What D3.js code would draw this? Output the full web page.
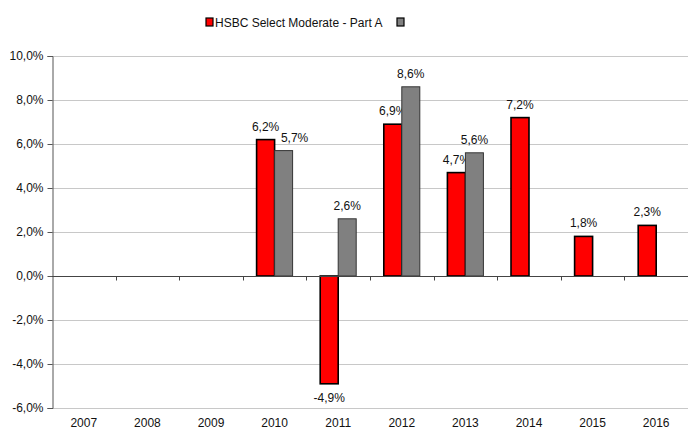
<!DOCTYPE html>
<meta charset="utf-8">
<style>
html, body {
  margin: 0;
  background: #fff;
}

.chart {
  display: block;
  font-family: "Liberation Sans Narrow", "Arial Narrow", "Liberation Sans", Arial, sans-serif;
}

.chart text {
  fill: #111;
  font-size: 12px;
}
</style>
<body>
<svg class="chart js-chart" width="688" height="430"></svg>

<script src="https://d3js.org/d3.v7.min.js"></script>
<script type="text/javascript">
"use strict";

var years = ["2007", "2008", "2009", "2010", "2011", "2012", "2013", "2014", "2015", "2016"];
var fundValues = [null, null, null, 6.2, -4.9, 6.9, 4.7, 7.2, 1.8, 2.3];
var benchValues = [null, null, null, 5.7, 2.6, 8.6, 5.6, null, null, null];
var yTicks = [-6, -4, -2, 0, 2, 4, 6, 8, 10];
var seriesNames = ["HSBC Select Moderate - Part A", ""];

var margin = { top: 56, right: 0, bottom: 22, left: 52 };
var width = 688 - margin.left - margin.right;
var height = 430 - margin.top - margin.bottom;

var svg = d3.select(".js-chart");

var fmt = function (v) { return v.toFixed(1).replace(".", ",") + "%"; };

var x = d3.scaleBand().domain(years).range([0, width]);
var y = d3.scaleLinear().domain([-6, 10]).range([height, 0]);

var g = svg.append("g")
  .attr("transform", "translate(" + margin.left + "," + margin.top + ")");

// gridlines
g.selectAll(".grid").data(yTicks.filter(function (d) { return d !== 0; }))
  .enter().append("line")
    .attr("x1", 0).attr("x2", width)
    .attr("y1", function (d) { return Math.round(y(d)) + 0.5; })
    .attr("y2", function (d) { return Math.round(y(d)) + 0.5; })
    .attr("stroke", "#c8c8c8");

// y axis
var yAxis = g.append("g")
  .attr("transform", "translate(0.5,0)")
  .call(d3.axisLeft(y).tickValues(yTicks).tickFormat(fmt).tickSize(5).tickPadding(4));
yAxis.selectAll("path, line").attr("stroke", "#555");
yAxis.selectAll("text").attr("font-size", 12).attr("font-family", null);

var series = [
  { name: "fund", values: fundValues, fill: "#ff0000", stroke: "#000", sw: 1.6, offset: -1 },
  { name: "bench", values: benchValues, fill: "#808080", stroke: "#333", sw: 1, offset: 0 }
];

var barW = 18;
var labelY = function (v) { return v >= 0 ? y(v) - 9 : y(v) + 18; };

series.forEach(function (s, si) {
  var rows = years.map(function (yr, i) { return { year: yr, v: s.values[i], i: i }; })
    .filter(function (d) { return d.v !== null; });

  var bx = function (d) { return x(d.year) + x.bandwidth() / 2 + s.offset * barW; };

  g.selectAll(".bar-" + s.name).data(rows)
    .enter().append("rect")
      .attr("x", bx)
      .attr("y", function (d) { return y(Math.max(0, d.v)); })
      .attr("width", barW)
      .attr("height", function (d) { return Math.abs(y(d.v) - y(0)); })
      .attr("fill", s.fill)
      .attr("stroke", s.stroke)
      .attr("stroke-width", s.sw);

  // push second label aside when it would collide with the first one
  var nudge = function (d) {
    if (si === 0) return 0;
    var other = fundValues[d.i];
    if (other === null) return 0;
    return Math.abs(labelY(other) - labelY(d.v)) < 13 ? 11 : 0;
  };

  g.selectAll(".lbl-" + s.name).data(rows)
    .enter().append("text")
      .attr("x", function (d) { return bx(d) + barW / 2 + nudge(d); })
      .attr("y", function (d) { return labelY(d.v); })
      .attr("text-anchor", "middle")
      .text(function (d) { return fmt(d.v); });
});

// zero line with category ticks
var xAxis = g.append("g")
  .attr("transform", "translate(0," + (Math.round(y(0)) + 0.5) + ")");
xAxis.append("line").attr("x1", 0).attr("x2", width).attr("stroke", "#444");
xAxis.selectAll(".tick").data(years.slice(1))
  .enter().append("line")
    .attr("x1", function (d) { return Math.round(x(d)) + 0.5; })
    .attr("x2", function (d) { return Math.round(x(d)) + 0.5; })
    .attr("y1", 0).attr("y2", 4)
    .attr("stroke", "#444");

// year labels at bottom
g.selectAll(".year").data(years)
  .enter().append("text")
    .attr("x", function (d) { return x(d) + x.bandwidth() / 2; })
    .attr("y", height + 19)
    .attr("text-anchor", "middle")
    .text(String);

// legend
var legend = svg.append("g").attr("transform", "translate(0,22)");
var legendX = [206, 397];
series.forEach(function (s, i) {
  legend.append("rect")
    .attr("x", legendX[i]).attr("y", -4)
    .attr("width", 7).attr("height", 8)
    .attr("fill", s.fill)
    .attr("stroke", "#000")
    .attr("stroke-width", 1.2);
  legend.append("text")
    .attr("x", legendX[i] + 9).attr("y", 4.5)
    .text(seriesNames[i]);
});
</script>
</body>
